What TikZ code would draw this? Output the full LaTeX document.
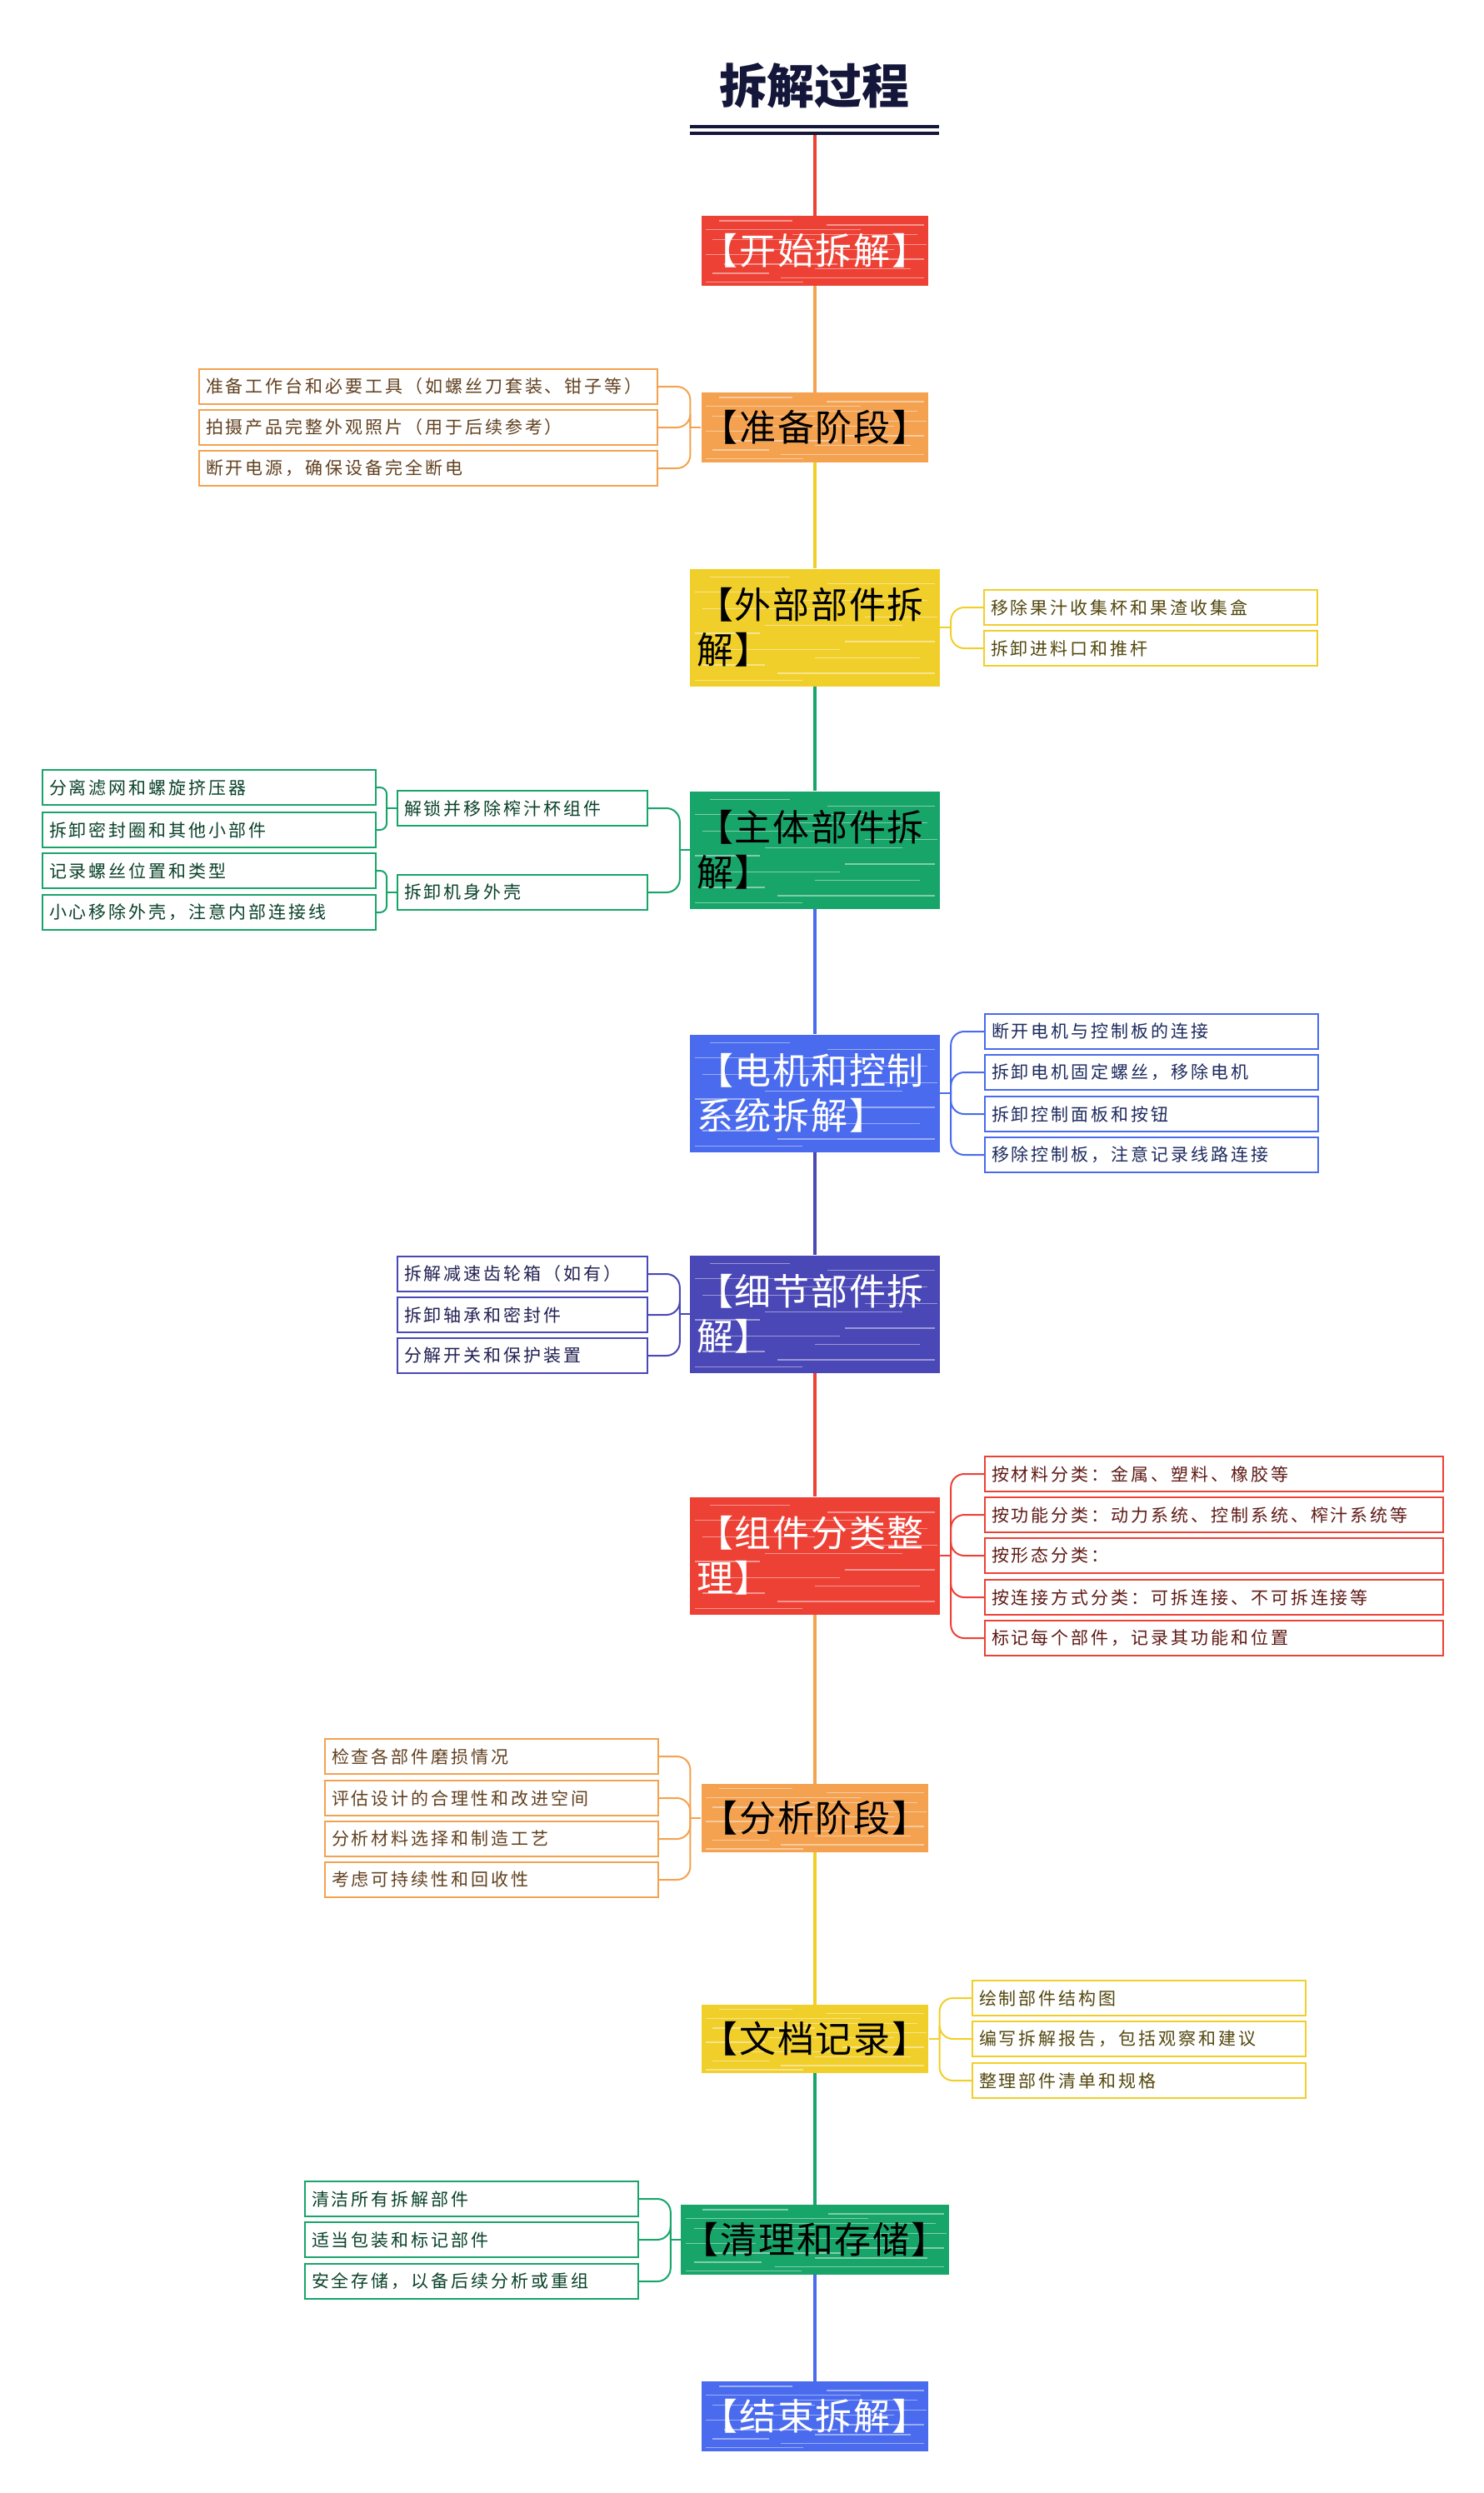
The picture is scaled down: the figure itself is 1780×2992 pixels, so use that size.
\documentclass[tikz,border=0pt]{standalone}
\usepackage{fontspec}
\setmainfont{Noto Sans CJK SC}
\newfontfamily\leaffont[LetterSpace=14]{Noto Sans CJK SC}
\newfontfamily\mainfont[LetterSpace=4]{Noto Sans CJK SC}
\usetikzlibrary{calc}
\definecolor{cRed}{HTML}{EE4136}
\definecolor{cOrange}{HTML}{F4A24F}
\definecolor{cYellow}{HTML}{F1CF2A}
\definecolor{cGreen}{HTML}{18A56A}
\definecolor{cBlue}{HTML}{4A6BEE}
\definecolor{cIndigo}{HTML}{4A47B6}
\definecolor{cNavy}{HTML}{14163A}
\tikzset{
  streaks/.style={path picture={
    \foreach \yy/\xa/\xb in {0.05/0.02/0.45, 0.11/0.35/0.98, 0.18/0.05/0.3, 0.24/0.5/0.92, 0.31/0.1/0.6, 0.38/0.62/0.98, 0.45/0.02/0.28, 0.52/0.3/0.85, 0.59/0.7/0.99, 0.66/0.05/0.5, 0.73/0.4/0.95, 0.8/0.02/0.7, 0.87/0.55/0.98, 0.93/0.08/0.4}{
      \draw[white, opacity=0.45, line width=1.3pt]
        let \p1=(path picture bounding box.south west), \p2=(path picture bounding box.north east) in
        ({\x1+\xa*(\x2-\x1)},{\y1+\yy*(\y2-\y1)}) -- ({\x1+\xb*(\x2-\x1)},{\y1+\yy*(\y2-\y1)});
    }}},
  mainbox/.style={rectangle, inner sep=0pt, font=\mainfont\fontsize{44}{54}\selectfont, streaks},
  onebox/.style={mainbox, minimum width=271pt, minimum height=84pt},
  twobox/.style={mainbox, minimum width=300pt, minimum height=141pt, text width=284pt, align=left},
  leaf/.style={rectangle, draw, line width=1.8pt, fill=white, inner xsep=8pt, inner ysep=0pt,
    minimum height=42pt, align=left, font=\leaffont\fontsize{21}{24}\selectfont},
  w400/.style={text width=384pt},
  w300/.style={text width=284pt},
  w550/.style={text width=534pt},
  leafO/.style={leaf, draw=cOrange, text=cOrange!40!black},
  leafY/.style={leaf, draw=cYellow, text=cYellow!35!black},
  leafG/.style={leaf, draw=cGreen, text=cGreen!40!black},
  leafB/.style={leaf, draw=cBlue, text=cBlue!40!black},
  leafI/.style={leaf, draw=cIndigo, text=cIndigo!45!black},
  leafR/.style={leaf, draw=cRed, text=cRed!40!black},
  edge/.style={line width=4pt},
  conn/.style={line width=2pt, rounded corners=16pt},
  connS/.style={line width=2pt, rounded corners=8pt}
}
\begin{document}
\begin{tikzpicture}[x=1pt, y=-1pt]
\useasboundingbox (0,0) rectangle (1780,2992);
\fill[white] (0,0) rectangle (1780,2992);

% title
\node[font=\fontsize{57}{60}\selectfont\bfseries, text=cNavy, inner sep=0pt] (title) at (977,103) {拆解过程};
\coordinate (ulL) at (828,152);
\coordinate (ulR) at (1127,152);
\coordinate (ulL2) at (828,160);
\coordinate (ulR2) at (1127,160);
\coordinate (ulC) at (978,162);
\draw[cNavy, line width=4.5pt] (ulL) -- (ulR);
\draw[cNavy, line width=4.5pt] (ulL2) -- (ulR2);

% main nodes
\node[onebox, fill=cRed, text=white] (n1) at (978,301) {【开始拆解】};
\node[onebox, fill=cOrange, text=black] (n2) at (978,513) {【准备阶段】};
\node[twobox, fill=cYellow, text=black] (n3) at (978,753) {【外部部件拆\\解】};
\node[twobox, fill=cGreen, text=black] (n4) at (978,1020) {【主体部件拆\\解】};
\node[twobox, fill=cBlue, text=white] (n5) at (978,1312) {【电机和控制\\系统拆解】};
\node[twobox, fill=cIndigo, text=white] (n6) at (978,1577) {【细节部件拆\\解】};
\node[twobox, fill=cRed, text=white] (n7) at (978,1867) {【组件分类整\\理】};
\node[onebox, fill=cOrange, text=black, minimum height=82pt] (n8) at (978,2182) {【分析阶段】};
\node[onebox, fill=cYellow, text=black, minimum height=82pt] (n9) at (978,2447) {【文档记录】};
\node[onebox, fill=cGreen, text=black, minimum width=322pt] (n10) at (978,2688) {【清理和存储】};
\node[onebox, fill=cBlue, text=white] (n11) at (978,2900) {【结束拆解】};

% spine
\draw[edge, cRed] (ulC) -- (n1.north);
\draw[edge, cOrange] (n1.south) -- (n2.north);
\draw[edge, cYellow] (n2.south) -- (n3.north);
\draw[edge, cGreen] (n3.south) -- (n4.north);
\draw[edge, cBlue] (n4.south) -- (n5.north);
\draw[edge, cIndigo] (n5.south) -- (n6.north);
\draw[edge, cRed] (n6.south) -- (n7.north);
\draw[edge, cOrange] (n7.south) -- (n8.north);
\draw[edge, cYellow] (n8.south) -- (n9.north);
\draw[edge, cGreen] (n9.south) -- (n10.north);
\draw[edge, cBlue] (n10.south) -- (n11.north);

% 准备阶段
\node[leafO, w550] (p1) at (514,464) {准备工作台和必要工具（如螺丝刀套装、钳子等）};
\node[leafO, w550] (p2) at (514,513) {拍摄产品完整外观照片（用于后续参考）};
\node[leafO, w550] (p3) at (514,562) {断开电源，确保设备完全断电};
\draw[conn, cOrange] (n2.west) -- ++(-13,0);
\foreach \l in {p1,p2,p3} \draw[conn, cOrange] (n2.west) ++(-13,0) |- (\l.east);

% 外部部件拆解
\node[leafY, w400] (e1) at (1381,729) {移除果汁收集杯和果渣收集盒};
\node[leafY, w400] (e2) at (1381,778) {拆卸进料口和推杆};
\draw[conn, cYellow] (n3.east) -- ++(13,0);
\foreach \l in {e1,e2} \draw[conn, cYellow] (n3.east) ++(13,0) |- (\l.west);

% 主体部件拆解
\node[leafG, w300] (m1) at (627,970) {解锁并移除榨汁杯组件};
\node[leafG, w300] (m2) at (627,1071) {拆卸机身外壳};
\node[leafG, w400] (m11) at (251,945) {分离滤网和螺旋挤压器};
\node[leafG, w400] (m12) at (251,996) {拆卸密封圈和其他小部件};
\node[leafG, w400] (m21) at (251,1045) {记录螺丝位置和类型};
\node[leafG, w400] (m22) at (251,1095) {小心移除外壳，注意内部连接线};
\draw[conn, cGreen] (n4.west) -- ++(-12,0);
\foreach \l in {m1,m2} \draw[conn, cGreen] (n4.west) ++(-12,0) |- (\l.east);
\draw[connS, cGreen] (m1.west) -- ++(-12,0);
\foreach \l in {m11,m12} \draw[connS, cGreen] (m1.west) ++(-12,0) |- (\l.east);
\draw[connS, cGreen] (m2.west) -- ++(-12,0);
\foreach \l in {m21,m22} \draw[connS, cGreen] (m2.west) ++(-12,0) |- (\l.east);

% 电机和控制系统拆解
\node[leafB, w400] (c1) at (1382,1238) {断开电机与控制板的连接};
\node[leafB, w400] (c2) at (1382,1287) {拆卸电机固定螺丝，移除电机};
\node[leafB, w400] (c3) at (1382,1337) {拆卸控制面板和按钮};
\node[leafB, w400] (c4) at (1382,1386) {移除控制板，注意记录线路连接};
\draw[conn, cBlue] (n5.east) -- ++(13,0);
\foreach \l in {c1,c2,c3,c4} \draw[conn, cBlue] (n5.east) ++(13,0) |- (\l.west);

% 细节部件拆解
\node[leafI, w300] (d1) at (627,1529) {拆解减速齿轮箱（如有）};
\node[leafI, w300] (d2) at (627,1578) {拆卸轴承和密封件};
\node[leafI, w300] (d3) at (627,1627) {分解开关和保护装置};
\draw[conn, cIndigo] (n6.west) -- ++(-12,0);
\foreach \l in {d1,d2,d3} \draw[conn, cIndigo] (n6.west) ++(-12,0) |- (\l.east);

% 组件分类整理
\node[leafR, w550] (s1) at (1457,1769) {按材料分类：金属、塑料、橡胶等};
\node[leafR, w550] (s2) at (1457,1818) {按功能分类：动力系统、控制系统、榨汁系统等};
\node[leafR, w550] (s3) at (1457,1867) {按形态分类：};
\node[leafR, w550] (s4) at (1457,1917) {按连接方式分类：可拆连接、不可拆连接等};
\node[leafR, w550] (s5) at (1457,1966) {标记每个部件，记录其功能和位置};
\draw[conn, cRed] (n7.east) -- ++(13,0);
\foreach \l in {s1,s2,s3,s4,s5} \draw[conn, cRed] (n7.east) ++(13,0) |- (\l.west);

% 分析阶段
\node[leafO, w400] (a1) at (590,2108) {检查各部件磨损情况};
\node[leafO, w400] (a2) at (590,2158) {评估设计的合理性和改进空间};
\node[leafO, w400] (a3) at (590,2207) {分析材料选择和制造工艺};
\node[leafO, w400] (a4) at (590,2256) {考虑可持续性和回收性};
\draw[conn, cOrange] (n8.west) -- ++(-13,0);
\foreach \l in {a1,a2,a3,a4} \draw[conn, cOrange] (n8.west) ++(-13,0) |- (\l.east);

% 文档记录
\node[leafY, w400] (r1) at (1367,2398) {绘制部件结构图};
\node[leafY, w400] (r2) at (1367,2447) {编写拆解报告，包括观察和建议};
\node[leafY, w400] (r3) at (1367,2497) {整理部件清单和规格};
\draw[conn, cYellow] (n9.east) -- ++(13,0);
\foreach \l in {r1,r2,r3} \draw[conn, cYellow] (n9.east) ++(13,0) |- (\l.west);

% 清理和存储
\node[leafG, w400] (k1) at (566,2639) {清洁所有拆解部件};
\node[leafG, w400] (k2) at (566,2688) {适当包装和标记部件};
\node[leafG, w400] (k3) at (566,2738) {安全存储，以备后续分析或重组};
\draw[conn, cGreen] (n10.west) -- ++(-12,0);
\foreach \l in {k1,k2,k3} \draw[conn, cGreen] (n10.west) ++(-12,0) |- (\l.east);
\end{tikzpicture}
\end{document}
